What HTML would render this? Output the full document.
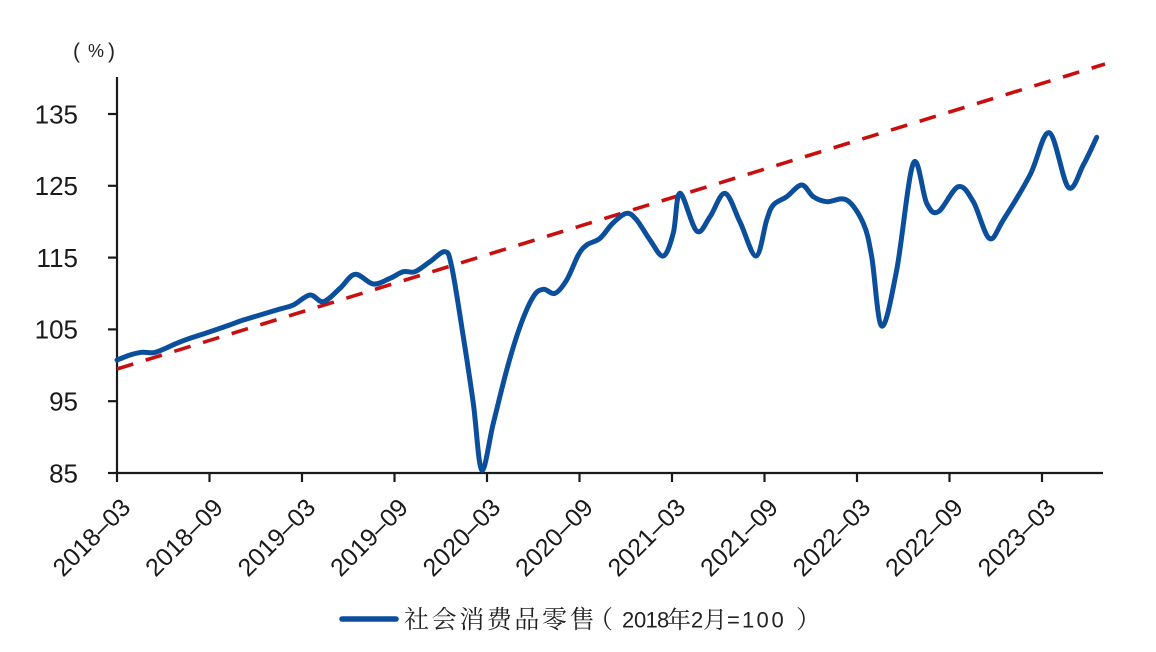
<!DOCTYPE html>
<html><head><meta charset="utf-8"><style>
html,body{margin:0;padding:0;background:#fff;}
svg{display:block;}
</style></head><body>
<svg width="1156" height="652" viewBox="0 0 1156 652" xmlns="http://www.w3.org/2000/svg">
<rect width="1156" height="652" fill="#fff"/>
<!-- unit label -->
<text x="73" y="58" font-family="Liberation Sans, sans-serif" font-size="21" fill="#222">(</text>
<text x="88" y="57" font-family="Liberation Sans, sans-serif" font-size="18" fill="#222">%</text>
<text x="108" y="58" font-family="Liberation Sans, sans-serif" font-size="21" fill="#222">)</text>
<!-- axes -->
<g stroke="#1a1a1a" stroke-width="2.2" fill="none">
<line x1="117" y1="77" x2="117" y2="474"/>
<line x1="116" y1="473" x2="1103" y2="473"/>
<line x1="108" y1="114" x2="117" y2="114"/>
<line x1="108" y1="185.8" x2="117" y2="185.8"/>
<line x1="108" y1="257.6" x2="117" y2="257.6"/>
<line x1="108" y1="329.4" x2="117" y2="329.4"/>
<line x1="108" y1="401.2" x2="117" y2="401.2"/>
<line x1="108" y1="473" x2="117" y2="473"/>
<line x1="117" y1="473" x2="117" y2="482"/>
<line x1="209.5" y1="473" x2="209.5" y2="482"/>
<line x1="302" y1="473" x2="302" y2="482"/>
<line x1="394.5" y1="473" x2="394.5" y2="482"/>
<line x1="487" y1="473" x2="487" y2="482"/>
<line x1="579.5" y1="473" x2="579.5" y2="482"/>
<line x1="672" y1="473" x2="672" y2="482"/>
<line x1="764.5" y1="473" x2="764.5" y2="482"/>
<line x1="857" y1="473" x2="857" y2="482"/>
<line x1="949.5" y1="473" x2="949.5" y2="482"/>
<line x1="1042" y1="473" x2="1042" y2="482"/>
</g>
<!-- y labels -->
<g font-family="Liberation Sans, sans-serif" font-size="26" fill="#1a1a1a" text-anchor="end">
<text x="78" y="123.3">135</text>
<text x="78" y="195.1">125</text>
<text x="78" y="266.9">115</text>
<text x="78" y="338.7">105</text>
<text x="78" y="410.5">95</text>
<text x="78" y="482.3">85</text>
</g>
<!-- x labels -->
<g font-family="Liberation Sans, sans-serif" font-size="25" fill="#1a1a1a" text-anchor="end">
<text transform="translate(132,509) rotate(-45)">2018–03</text>
<text transform="translate(224.5,509) rotate(-45)">2018–09</text>
<text transform="translate(317,509) rotate(-45)">2019–03</text>
<text transform="translate(409.5,509) rotate(-45)">2019–09</text>
<text transform="translate(502,509) rotate(-45)">2020–03</text>
<text transform="translate(594.5,509) rotate(-45)">2020–09</text>
<text transform="translate(687,509) rotate(-45)">2021–03</text>
<text transform="translate(779.5,509) rotate(-45)">2021–09</text>
<text transform="translate(872,509) rotate(-45)">2022–03</text>
<text transform="translate(964.5,509) rotate(-45)">2022–09</text>
<text transform="translate(1057,509) rotate(-45)">2023–03</text>
</g>
<!-- trend line -->
<line x1="117" y1="369" x2="1105" y2="64" stroke="#c80f0f" stroke-width="3.6" stroke-dasharray="17 13" fill="none"/>
<!-- series -->
<path id="series" fill="none" stroke="#0b4f9c" stroke-width="5" stroke-linejoin="round" stroke-linecap="round"
d="M117,360 L130,355 L141.7,352.3 L153.3,352.7 L163.3,349.3 L176.7,343.3 L190,338.3 L210,331.7 L226.7,326 L243.3,320 L260,315 L280,309 L293.3,305 L310,295 L323.3,301.7 L340,288.3 L355,274.3 L373.3,284 L390,278.3 L403.3,271.7 L415,271.7 L430,261.7 L445,251.7 L451.7,266.7 L463.3,336.7 L473.3,403.3 L481.7,470 L493.3,423.3 L506.7,370 L520,326.7 L533.3,296.7 L543.3,289.3 L555,293.3 L566.7,280 L578.3,255 L586.7,245 L600,238.3 L613,223 L626.7,213.3 L636.7,220 L650,240 L663.3,256 L673.3,233 L680,193.3 L696.7,231 L710,216.7 L725,193.3 L740,222 L756,256 L766.7,220 L773.3,205 L786.7,196.7 L801.7,185 L813.3,196.7 L826.7,201.7 L846.7,200 L863.3,223.3 L871.7,256.7 L881.7,326 L896.7,270 L913.3,163.3 L926.7,203.3 L938.3,211.7 L958.3,186.7 L973.3,201.7 L989.3,238.3 L1003.3,220 L1030,175 L1049.3,132.7 L1068.3,187.3 L1083.3,165 L1096.7,137.3"/>
<!-- legend -->
<line x1="342" y1="619" x2="396" y2="619" stroke="#0b4f9c" stroke-width="5.5" stroke-linecap="round"/>
<text x="404 431.6 459.2 486.8 514.4 542 569.6" y="628" font-family="Noto Serif CJK SC, serif" font-size="25" fill="#222">社会消费品零售</text>
<text x="588" y="628" font-family="Noto Serif CJK SC, serif" font-size="25" fill="#222">（</text>
<text x="622 634 645.5 657" y="627.5" font-family="Liberation Sans, sans-serif" font-size="22" fill="#222">2018</text>
<text x="667" y="628" font-family="Noto Serif CJK SC, serif" font-size="24" fill="#222">年</text>
<text x="691" y="627.5" font-family="Liberation Sans, sans-serif" font-size="22" fill="#222">2</text>
<text x="703" y="628" font-family="Noto Serif CJK SC, serif" font-size="24" fill="#222">月</text>
<text x="727 742 756.5 771.5" y="627.5" font-family="Liberation Sans, sans-serif" font-size="22" fill="#222">=100</text>
<text x="796" y="628" font-family="Noto Serif CJK SC, serif" font-size="25" fill="#222">）</text>
</svg>
<script>
(function(){
var p=document.getElementById('series');
var d=p.getAttribute('d').replace(/[ML]/g,' ').trim().split(/\s+/).map(function(s){var a=s.split(',');return [+a[0],+a[1]];});
var out='M'+d[0][0]+','+d[0][1];
for(var i=0;i<d.length-1;i++){
var p0=d[i-1]||d[i],p1=d[i],p2=d[i+1],p3=d[i+2]||d[i+1];
var c1x=p1[0]+(p2[0]-p0[0])/6,c1y=p1[1]+(p2[1]-p0[1])/6;
var c2x=p2[0]-(p3[0]-p1[0])/6,c2y=p2[1]-(p3[1]-p1[1])/6;
out+=' C'+c1x.toFixed(1)+','+c1y.toFixed(1)+' '+c2x.toFixed(1)+','+c2y.toFixed(1)+' '+p2[0]+','+p2[1];
}
p.setAttribute('d',out);
})();
</script>
</body></html>
